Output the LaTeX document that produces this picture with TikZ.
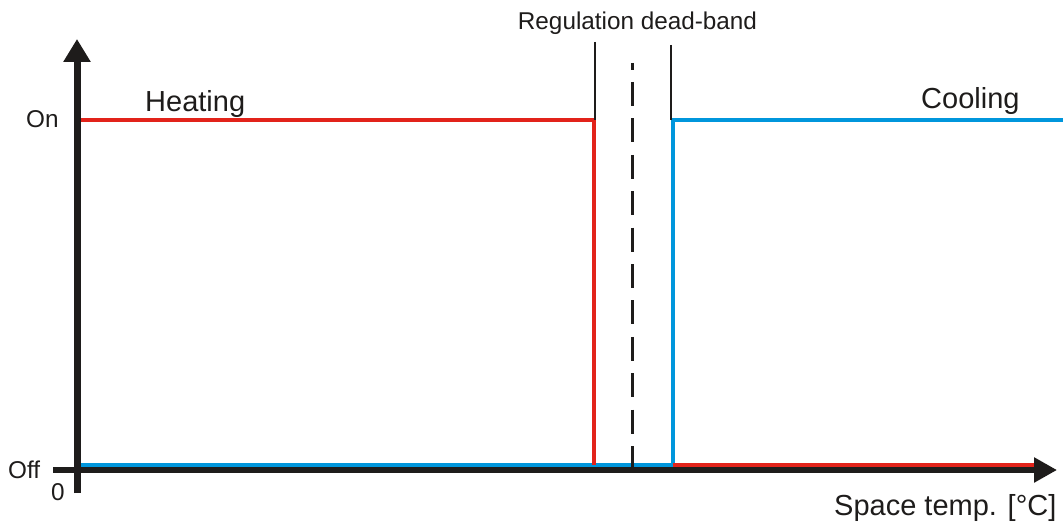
\documentclass[tikz,border=0pt]{standalone}
\usepackage{fontspec}
\setmainfont{Liberation Sans}
\usetikzlibrary{arrows.meta}
\definecolor{heatred}{RGB}{226,35,26}
\definecolor{coolblue}{RGB}{0,150,220}
\definecolor{ink}{RGB}{30,28,27}
\tikzset{
  axisline/.style={draw=ink, line width=#1},
  heatline/.style={draw=heatred, line width=4.5pt},
  coolline/.style={draw=coolblue, line width=4.5pt},
  bandline/.style={draw=ink, line width=2.4pt},
  midline/.style={draw=ink, line width=3pt, dash pattern=on 24pt off 12.4pt, dash phase=17.4pt},
  lbl/.style={inner sep=0pt, text=ink},
  big/.style={lbl, font=\fontsize{29}{29}\selectfont},
  small/.style={lbl, font=\fontsize{24.3}{24.3}\selectfont},
}
\begin{document}
\begin{tikzpicture}[x=1pt,y=-1pt]
\useasboundingbox (0,0) rectangle (1063,532);
% coordinates
\coordinate (yaxB) at (77,493);
\coordinate (yaxT) at (77,39);
\coordinate (xaxL) at (53,470);
\coordinate (xaxR) at (1057,470);
\coordinate (hOn0) at (80,120);
\coordinate (hOn1) at (594,120);
\coordinate (hOff0) at (594,465);
\coordinate (hOff1) at (673,465);
\coordinate (hOff2) at (1034,465);
\coordinate (cOff0) at (80,465);
\coordinate (cOff1) at (673,465);
\coordinate (cOn0) at (673,120);
\coordinate (cOn1) at (1063,120);
\coordinate (bL0) at (595,42);
\coordinate (bL1) at (595,120);
\coordinate (bR0) at (671,45);
\coordinate (bR1) at (671,120);
\coordinate (mid0) at (632,63);
\coordinate (mid1) at (632,468);
% cooling curve
\draw[coolline] (cOff0) -- (cOff1) -- (cOn0) -- (cOn1);
% heating curve
\draw[heatline] (hOn0) -- (hOn1) -- (hOff0);
\draw[heatline] (hOff1) -- (hOff2);
% dead band
\draw[bandline] (bL0) -- (bL1);
\draw[bandline] (bR0) -- (bR1);
\draw[midline] (mid0) -- (mid1);
% axes
\draw[axisline=5.5pt, -{Triangle[length=23pt,width=24pt]}, ink] (xaxL) -- (xaxR);
\draw[axisline=7pt, -{Triangle[length=23pt,width=26pt]}, ink] (yaxB) -- (yaxT);
% labels
\node[small, anchor=base] (band) at (637.5,30) {Regulation dead-band};
\node[big, anchor=base west] (heat) at (145,111.5) {Heating};
\node[big, anchor=base west] (cool) at (921,109) {Cooling};
\node[small, anchor=base west] (on) at (26,128) {On};
\node[small, anchor=base west] (off) at (8,478) {Off};
\node[small, anchor=base west] (zero) at (51,500) {0};
\node[big, anchor=base west] (xlab) at (834,515) {Space temp. [°C]};
\end{tikzpicture}
\end{document}
